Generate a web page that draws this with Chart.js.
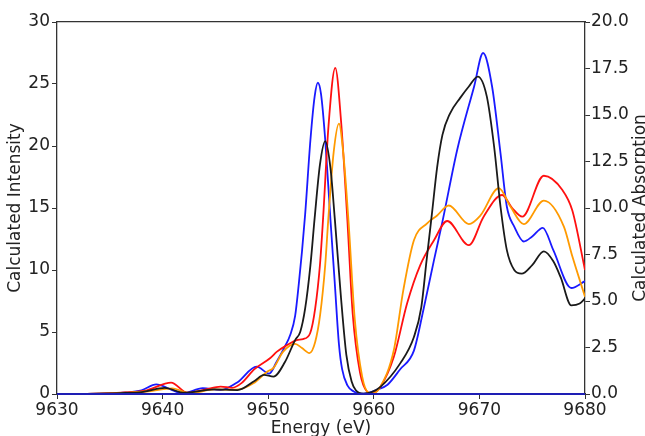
<!DOCTYPE html>
<html>
<head>
<meta charset="utf-8">
<script src="https://cdn.jsdelivr.net/npm/chart.js@4.4.1/dist/chart.umd.min.js"></script>
<style>
  html, body { margin: 0; padding: 0; background: #fff; }
  #spectrum { display: block; }
</style>
</head>
<body>
<canvas id="spectrum" width="645" height="436"></canvas>
<script>
// ── Spectra (energy in eV, intensity) ─────────────────────────────
const blueE  = [9630, 9634, 9636.5, 9638, 9639.4, 9640.7, 9641.9, 9643.8, 9645.5, 9647.1, 9648.9, 9650.1, 9650.8, 9651.5, 9652.1, 9652.55, 9652.9, 9653.2, 9653.5, 9654.0, 9654.4, 9654.7, 9655.0, 9655.4, 9655.9, 9656.3, 9656.7, 9657.0, 9657.5, 9658.1, 9658.8, 9659.5, 9660.3, 9661.3, 9662.5, 9663.8, 9664.7, 9665.7, 9666.5, 9667.9, 9669.5, 9670.35, 9671.2, 9672.0, 9672.6, 9673.3, 9674.2, 9675.0, 9676.0, 9677.0, 9678.7, 9680];
const blueI  = [0, 0.02, 0.12, 0.3, 0.78, 0.4, 0.05, 0.47, 0.32, 0.95, 2.2, 1.65, 2.6, 3.7, 4.8, 6.3, 8.9, 11.5, 14.5, 20.5, 24.0, 25.1, 24.2, 20.5, 14.0, 9.0, 4.0, 2.0, 0.7, 0.2, 0.03, 0.1, 0.35, 0.75, 2.0, 3.5, 6.8, 10.8, 13.9, 19.7, 24.8, 27.5, 24.8, 19.4, 15.1, 13.5, 12.3, 12.7, 13.4, 11.6, 8.55, 9.1];

const blackE = [9630, 9634, 9636.5, 9638, 9640.2, 9642, 9644.9, 9647.1, 9648.7, 9649.6, 9650.5, 9651.6, 9652.55, 9653.03, 9653.5, 9654.0, 9654.4, 9654.9, 9655.4, 9655.9, 9656.3, 9656.9, 9657.4, 9657.9, 9658.3, 9659.0, 9659.8, 9660.6, 9662.5, 9663.8, 9664.5, 9665.0, 9665.5, 9666.0, 9666.5, 9667.2, 9668.2, 9669.0, 9669.85, 9670.7, 9671.4, 9672.0, 9672.6, 9673.3, 9674.0, 9675.0, 9676.1, 9677.0, 9677.7, 9678.7, 9679.5, 9680];
const blackI = [0, 0.02, 0.08, 0.15, 0.5, 0.1, 0.37, 0.32, 1.05, 1.55, 1.4, 2.6, 4.35, 5.0, 6.9, 10.4, 14.2, 18.5, 20.4, 18.2, 14.2, 7.7, 3.15, 1.0, 0.3, 0.03, 0.15, 0.55, 2.47, 4.6, 7.0, 10.8, 14.5, 18.3, 20.9, 22.6, 23.9, 24.8, 25.6, 24.0, 19.9, 15.1, 11.6, 10.0, 9.7, 10.4, 11.5, 10.7, 9.4, 7.15, 7.3, 7.7];

const redE   = [9630, 9634, 9636.5, 9638.5, 9640.8, 9642.35, 9644, 9645.5, 9646.6, 9647.5, 9648.7, 9650.2, 9650.8, 9651.8, 9652.7, 9653.3, 9653.97, 9654.45, 9654.9, 9655.2, 9655.7, 9656.35, 9656.9, 9657.5, 9658.0, 9658.7, 9659.35, 9659.8, 9660.6, 9661.9, 9663.15, 9664.4, 9665.7, 9666.95, 9669.0, 9670.4, 9672.16, 9673.1, 9674.06, 9676.1, 9677.86, 9678.8, 9680];
const redI   = [0, 0.02, 0.12, 0.3, 0.92, 0.1, 0.35, 0.6, 0.5, 0.9, 2.0, 2.9, 3.4, 3.95, 4.35, 4.43, 4.9, 6.9, 10.4, 14.2, 21.5, 26.3, 22.0, 14.0, 6.5, 1.7, 0.2, 0.05, 0.55, 3.0, 7.3, 10.4, 12.4, 13.95, 12.0, 14.3, 16.05, 15.0, 14.3, 17.6, 16.45, 14.8, 10.0];

const orangeE = [9630, 9634, 9636.5, 9638.5, 9640.9, 9642.6, 9644.9, 9647, 9648.6, 9649.9, 9650.5, 9651.4, 9652.55, 9653.2, 9653.9, 9654.45, 9654.92, 9655.4, 9655.7, 9656.2, 9656.7, 9657.1, 9657.6, 9658.2, 9658.9, 9659.5, 9659.9, 9660.6, 9661.9, 9662.8, 9663.8, 9665.05, 9666.0, 9667.1, 9669.0, 9670.1, 9671.84, 9672.95, 9674.2, 9676.1, 9678.0, 9678.8, 9680];
const orangeI = [0, 0.02, 0.1, 0.2, 0.45, 0.05, 0.37, 0.35, 0.86, 1.8, 2.1, 3.4, 4.05, 3.7, 3.3, 4.2, 6.4, 10.4, 14.2, 19.5, 21.8, 19.5, 14.0, 6.0, 1.4, 0.1, 0.05, 0.55, 3.55, 8.4, 12.4, 13.77, 14.4, 15.2, 13.7, 14.4, 16.6, 15.1, 13.7, 15.6, 13.5, 11.1, 7.85];

// flat baseline along zero
const baseE = [9630, 9680];
const baseI = [0, 0];

const xTicks  = [9630, 9640, 9650, 9660, 9670, 9680];
const yLeft   = { min: 0, max: 30, step: 5 };
const yRight  = { min: 0, max: 20, step: 2.5 };

const pts = (xs, ys) => xs.map((x, i) => ({ x, y: ys[i] }));

const FONT = "'DejaVu Sans', sans-serif";
const tickFont = { family: FONT, size: 17 };
const axisColor = '#333';
const textColor = '#222';

function curve(label, xs, ys, color, width = 1.8) {
    return {
        label,
        data: pts(xs, ys),
        borderColor: color,
        backgroundColor: color,
        borderWidth: width,
        pointRadius: 0,
        cubicInterpolationMode: 'monotone',
        fill: false,
        yAxisID: 'y',
    };
}

// right-hand axis title, reading bottom to top like the left one
const rightTitle = {
    id: 'rightTitle',
    afterDraw(chart) {
        const { ctx, chartArea } = chart;
        ctx.save();
        ctx.translate(641, (chartArea.top + chartArea.bottom) / 2);
        ctx.rotate(-Math.PI / 2);
        ctx.font = `${tickFont.size}px ${FONT}`;
        ctx.fillStyle = textColor;
        ctx.textAlign = 'center';
        ctx.textBaseline = 'middle';
        ctx.fillText('Calculated Absorption', 0, 0);
        ctx.restore();
    }
};

new Chart(document.getElementById('spectrum'), {
    type: 'line',
    data: {
        datasets: [
            { ...curve('baseline', baseE, baseI, '#1e1eb4', 2.2), clip: false },
            curve('black',  blackE,  blackI,  '#1a1a1a'),
            curve('orange', orangeE, orangeI, '#ff9a00'),
            curve('red',    redE,    redI,    '#ff1010'),
            curve('blue',   blueE,   blueI,   '#1a1aff'),
        ]
    },
    options: {
        responsive: false,
        devicePixelRatio: 1,
        animation: false,
        layout: { padding: 0 },
        plugins: { legend: { display: false }, tooltip: { enabled: false } },
        scales: {
            x: {
                type: 'linear',
                position: 'bottom',
                min: 9630, max: 9680,
                afterBuildTicks: (s) => { s.ticks = xTicks.map(v => ({ value: v })); },
                afterFit: (s) => { s.height = 42; },
                ticks: { font: tickFont, color: textColor, padding: 1, maxRotation: 0, autoSkip: false,
                         callback: (v) => String(v) },
                grid: { drawOnChartArea: false, drawTicks: true, tickLength: 5, color: axisColor },
                border: { display: true, color: axisColor, width: 1.3 },
                title: { display: true, text: 'Energy (eV)', font: tickFont, color: textColor, padding: { top: 0, bottom: -3 } },
            },
            xTop: {
                type: 'linear',
                position: 'top',
                min: 9630, max: 9680,
                afterFit: (s) => { s.height = 22; },
                ticks: { display: false },
                grid: { display: false },
                border: { display: true, color: axisColor, width: 1.3 },
            },
            y: {
                type: 'linear',
                position: 'left',
                min: yLeft.min, max: yLeft.max,
                afterFit: (s) => { s.width = 57; },
                ticks: { stepSize: yLeft.step, font: tickFont, color: textColor, padding: 2 },
                grid: { drawOnChartArea: false, drawTicks: true, tickLength: 5, color: axisColor },
                border: { display: true, color: axisColor, width: 1.3 },
                title: { display: true, text: 'Calculated Intensity', font: tickFont, color: textColor, padding: { top: 5, bottom: 0 } },
            },
            y2: {
                type: 'linear',
                position: 'right',
                min: yRight.min, max: yRight.max,
                afterFit: (s) => { s.width = 60; },
                ticks: { stepSize: yRight.step, font: tickFont, color: textColor, padding: 1,
                         callback: (v) => v.toFixed(1) },
                grid: { drawOnChartArea: false, drawTicks: true, tickLength: 5, color: axisColor },
                border: { display: true, color: axisColor, width: 1.3 },
            },
        }
    },
    plugins: [rightTitle]
});
</script>
</body>
</html>
